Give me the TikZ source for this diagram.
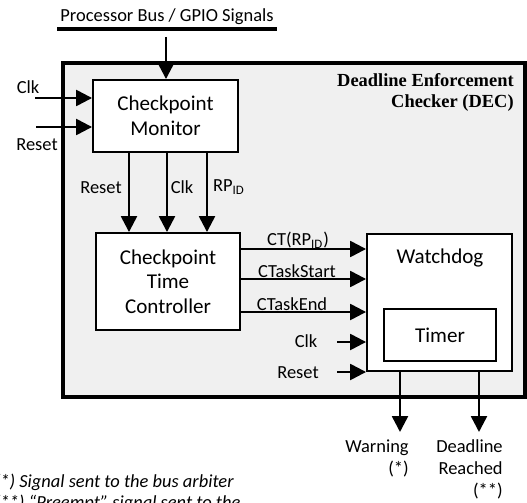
\documentclass[tikz,border=0pt]{standalone}
\usepackage{fontspec}
\setmainfont{Carlito}
\newfontfamily\titlefont{Liberation Serif}
\usetikzlibrary{arrows.meta}
\definecolor{decgray}{HTML}{F0F0F0}

\tikzset{
  block/.style={draw, line width=1.1pt, fill=white, inner sep=0pt, align=center,
    font=\fontsize{12}{14}\selectfont},
  sig/.style={line width=1.4pt, -{Triangle[length=9pt,width=9pt]}},
  lbl/.style={inner sep=0pt, font=\fontsize{10.5}{12.5}\selectfont},
}

\begin{document}
\begin{tikzpicture}[x=0.02cm, y=-0.02cm]
\path[clip, use as bounding box] (0,0) rectangle (527,503);

% Bus
\node[lbl] (bus) at (167,17) {Processor Bus / GPIO Signals};
\draw[line width=2pt] (57,29) -- (277,29);

% DEC container
\node[draw, line width=1.8pt, fill=decgray, minimum width=9.24cm, minimum height=6.68cm] (dec) at (294,230) {};
\node[inner sep=0pt, align=right, anchor=north east, font=\titlefont\bfseries\fontsize{10.5}{12}\selectfont] (dec-name) at (514,73) {Deadline Enforcement\\Checker (DEC)};

% Blocks
\node[block, minimum width=2.9cm, minimum height=1.44cm] (monitor) at (165.5,116) {Checkpoint\\Monitor};
\node[block, minimum width=2.88cm, minimum height=1.94cm] (ctrl) at (168,281.5) {Checkpoint\\Time\\Controller};
\node[block, minimum width=2.9cm, minimum height=2.74cm] (wd) at (439.5,302.5) {};
\node[inner sep=0pt, font=\fontsize{12}{14}\selectfont] (wd-name) at (440,258) {Watchdog};
\node[block, line width=0.6pt, minimum width=2.24cm, minimum height=1.04cm] (timer) at (440,335) {Timer};

% Monitor inputs
\coordinate (bus-tap) at (166,37);
\draw[sig] (bus-tap) -- (bus-tap |- monitor.north);
\node[lbl] (clk-in) at (28,87) {Clk};
\coordinate (clk-start) at (35,98);
\draw[sig] (clk-start) -- (clk-start -| monitor.west);
\node[lbl] (rst-in) at (37,145) {Reset};
\coordinate (rst-start) at (36,127);
\draw[sig] (rst-start) -- (rst-start -| monitor.west);

% Monitor to controller
\foreach \xx in {129,167,207}
  \draw[sig] (\xx,0 |- monitor.south) -- (\xx,0 |- ctrl.north);
\node[lbl] (rst-mid) at (101,188) {Reset};
\node[lbl] (clk-mid) at (182,187) {Clk};
\node[lbl] (rp-mid) at (229,187) {RP\textsubscript{ID}};

% Controller to watchdog
\foreach \yy in {249,279,312}
  \draw[sig] (ctrl.east |- 0,\yy) -- (wd.west |- 0,\yy);
\node[lbl] (ct-lbl) at (298,240) {CT(RP\textsubscript{ID})};
\node[lbl] (start-lbl) at (297,271) {CTaskStart};
\node[lbl] (end-lbl) at (292,304) {CTaskEnd};

% Watchdog inputs
\node[lbl] (clk-wd) at (306,341) {Clk};
\coordinate (clk-wd-start) at (337,342);
\draw[sig] (clk-wd-start) -- (clk-wd-start -| wd.west);
\node[lbl] (rst-wd) at (298,373) {Reset};
\coordinate (rst-wd-start) at (337,372);
\draw[sig] (rst-wd-start) -- (rst-wd-start -| wd.west);

% Outputs
\coordinate (warn-tip) at (400,432);
\coordinate (dl-tip) at (479,432);
\draw[sig] (warn-tip |- wd.south) -- (warn-tip);
\draw[sig] (dl-tip |- wd.south) -- (dl-tip);
\node[lbl, align=right, anchor=north east] (warn) at (409,439) {Warning\\(*)};
\node[lbl, align=right, anchor=north east] (dl) at (503,439) {Deadline\\Reached\\(**)};

% Notes
\node[lbl, anchor=base west, font=\itshape\fontsize{10.5}{12.5}\selectfont] (note-a) at (-5.5,487) {(*) Signal sent to the bus arbiter};
\node[lbl, anchor=base west, font=\itshape\fontsize{10.5}{12.5}\selectfont] (note-b) at (-5.5,508) {(**) “Preempt” signal sent to the};
\end{tikzpicture}
\end{document}
